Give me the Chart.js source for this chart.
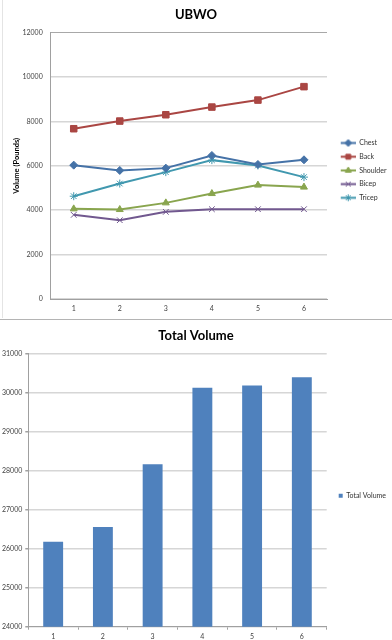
<!DOCTYPE html>
<html>
<head>
<meta charset="utf-8">
<title>UBWO</title>
<script src="https://cdn.jsdelivr.net/npm/chart.js@4.4.1/dist/chart.umd.min.js"></script>
<style>
    html, body { margin: 0; padding: 0; background: #fff; }
    body { width: 392px; height: 640px; position: relative; overflow: hidden; }
    #canvasUbwo { position: absolute; left: 0; top: 0; }
    #canvasTotal { position: absolute; left: 0; top: 320px; }
    .separador { position: absolute; left: 0; top: 319px; width: 392px; height: 1px; background: #b4b4b4; }
    .celdas { position: absolute; left: 2px; top: 0; width: 1px; height: 318px; background: #e4e4e4; }
</style>
</head>
<body>
<div class="celdas"></div>
<canvas id="canvasUbwo" width="392" height="318"></canvas>
<div class="separador"></div>
<canvas id="canvasTotal" width="392" height="320"></canvas>
<script>
// datos
var semanas = ['1', '2', '3', '4', '5', '6'];
var chest = [6030, 5790, 5895, 6465, 6060, 6270];
var back = [7670, 8015, 8300, 8645, 8960, 9565];
var shoulder = [4060, 4030, 4330, 4750, 5130, 5040];
var bicep = [3790, 3550, 3925, 4045, 4045, 4045];
var tricep = [4630, 5200, 5715, 6255, 6015, 5490];
var totalVolume = [26180, 26555, 28165, 30125, 30185, 30395];
var ticksVolumen = [0, 2000, 4000, 6000, 8000, 10000, 12000];
var ticksTotal = [24000, 25000, 26000, 27000, 28000, 29000, 30000, 31000];

var fuente = 'Lato, "Liberation Sans", sans-serif';
var colorTexto = '#444';
var colorEje = '#a0a0a0';

Chart.defaults.font.family = fuente;

function sinComas(valor) {
    return String(valor);
}

function iconoLeyenda(color, estilo) {
    var c = document.createElement('canvas');
    c.width = 22;
    c.height = 9;
    var ctx = c.getContext('2d');
    ctx.strokeStyle = color;
    ctx.fillStyle = color;
    ctx.lineWidth = 2;
    ctx.beginPath();
    ctx.moveTo(7, 4.5);
    ctx.lineTo(22, 4.5);
    ctx.stroke();
    if (Chart.helpers && Chart.helpers.drawPoint) {
        ctx.lineWidth = 1;
        Chart.helpers.drawPoint(ctx, { pointStyle: estilo, radius: 3.5, borderWidth: 1, rotation: 0 }, 14.5, 4.5);
    }
    return c;
}

function serie(nombre, datos, color, estilo, radio) {
    return {
        label: nombre,
        data: datos,
        borderColor: color,
        backgroundColor: color,
        borderWidth: 2,
        pointStyle: estilo,
        pointRadius: radio,
        pointBorderWidth: 1,
        pointBackgroundColor: color,
        pointBorderColor: color,
        tension: 0,
        fill: false
    };
}

var series = [
    serie('Chest', chest, '#4572A7', 'rectRot', 4),
    serie('Back', back, '#AA4643', 'rect', 4.6),
    serie('Shoulder', shoulder, '#89A54E', 'triangle', 4),
    serie('Bicep', bicep, '#71588F', 'crossRot', 4),
    serie('Tricep', tricep, '#4198AF', 'star', 4)
];
var iconos = series.map(function (s) { return iconoLeyenda(s.borderColor, s.pointStyle); });

var canvasUbwo = document.getElementById('canvasUbwo');
var graficaUbwo = new Chart(canvasUbwo, {
    type: 'line',
    data: { labels: semanas, datasets: series },
    options: {
        responsive: false,
        animation: false,
        devicePixelRatio: 1,
        layout: { padding: 0 },
        plugins: {
            title: {
                display: true,
                text: 'UBWO',
                color: '#000',
                font: { size: 13, weight: 'bold' },
                padding: { top: 7, bottom: 10 }
            },
            legend: {
                position: 'right',
                fullSize: false,
                maxWidth: 65,
                title: { display: true, text: ' ', font: { size: 1 }, padding: { top: 8, bottom: 0 } },
                labels: {
                    usePointStyle: true,
                    pointStyleWidth: 22,
                    boxHeight: 7,
                    padding: 6.7,
                    color: '#333',
                    font: { size: 7 },
                    generateLabels: function (chart) {
                        var items = Chart.defaults.plugins.legend.labels.generateLabels(chart);
                        items.forEach(function (item, i) { item.pointStyle = iconos[i]; });
                        return items;
                    }
                }
            },
            tooltip: { enabled: false }
        },
        scales: {
            x: {
                offset: true,
                grid: { drawOnChartArea: false, drawTicks: false },
                border: { color: colorEje },
                ticks: { padding: 6, color: colorTexto, font: { size: 7 } },
                afterFit: function (s) { s.height = 19; }
            },
            y: {
                min: 0,
                max: 12000,
                afterBuildTicks: function (s) { s.ticks = ticksVolumen.map(function (v) { return { value: v }; }); },
                grid: {
                    drawTicks: false,
                    color: function (c) { return (c.tick && c.tick.value === 12000) ? '#a8a8a8' : '#d6d6d6'; },
                    lineWidth: function (c) { return (c.tick && c.tick.value === 12000) ? 1 : 1.5; }
                },
                border: { color: colorEje },
                ticks: { padding: 8, color: colorTexto, font: { size: 7 }, callback: sinComas },
                title: {
                    display: true,
                    text: 'Volume (Pounds)',
                    color: '#000',
                    font: { size: 7.5, weight: 'bold' },
                    padding: { top: 12, bottom: 0 }
                },
                afterFit: function (s) { s.width = 50.7; }
            }
        }
    }
});

var canvasTotal = document.getElementById('canvasTotal');
var graficaTotal = new Chart(canvasTotal, {
    type: 'bar',
    data: {
        labels: semanas,
        datasets: [{
            label: 'Total Volume',
            data: totalVolume,
            backgroundColor: '#4F81BD',
            borderWidth: 0,
            barPercentage: 0.4,
            categoryPercentage: 1
        }]
    },
    options: {
        responsive: false,
        animation: false,
        devicePixelRatio: 1,
        layout: { padding: 0 },
        plugins: {
            title: {
                display: true,
                text: 'Total Volume',
                color: '#000',
                font: { size: 13, weight: 'bold' },
                padding: { top: 8, bottom: 10 }
            },
            legend: {
                position: 'right',
                fullSize: false,
                maxWidth: 65.3,
                title: { display: true, text: ' ', font: { size: 1 }, padding: { top: 10, bottom: 0 } },
                labels: {
                    boxWidth: 4,
                    boxHeight: 4,
                    padding: 12,
                    color: '#333',
                    font: { size: 7 }
                }
            },
            tooltip: { enabled: false }
        },
        scales: {
            x: {
                grid: { drawOnChartArea: false, drawTicks: true, tickLength: 3, tickColor: colorEje },
                border: { color: colorEje },
                ticks: { padding: 3, color: colorTexto, font: { size: 7 } },
                afterFit: function (s) { s.height = 13.3; }
            },
            y: {
                min: 24000,
                max: 31000,
                afterBuildTicks: function (s) { s.ticks = ticksTotal.map(function (v) { return { value: v }; }); },
                grid: { color: '#d6d6d6', lineWidth: 1.5, drawTicks: true, tickLength: 3, tickColor: colorEje },
                border: { color: colorEje },
                ticks: { padding: 3, color: colorTexto, font: { size: 7 }, callback: sinComas },
                afterFit: function (s) { s.width = 28.3; }
            }
        }
    }
});
</script>
</body>
</html>
